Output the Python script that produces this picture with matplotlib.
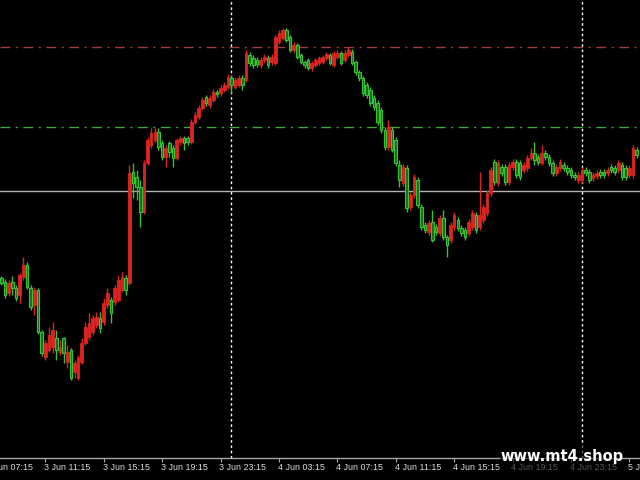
import datetime as dt
import numpy as np
import matplotlib
matplotlib.use("Agg")
import matplotlib.pyplot as plt
from matplotlib.patches import Rectangle

# M15 candles, prices in points above BASE
BASE = 1.1000
POINT = 0.0001
start_time = dt.datetime(2024, 6, 3, 8, 15)

opens = [
    180, 176, 165, 176, 170, 163, 181, 193, 170, 153,
    168, 126, 101, 108, 111, 120, 106, 120, 96, 108,
    86, 80, 96, 115, 121, 126, 133, 140, 136, 153,
    158, 156, 158, 168, 180, 175, 286, 281, 271, 246,
    295, 313, 318, 326, 315, 301, 315, 310, 300, 316,
    320, 320, 316, 336, 341, 350, 361, 353, 358, 366,
    365, 368, 371, 380, 371, 373, 380, 378, 403, 400,
    398, 393, 398, 400, 396, 395, 416, 420, 428, 421,
    408, 413, 403, 396, 398, 390, 393, 395, 396, 400,
    403, 393, 401, 405, 398, 403, 406, 396, 386, 380,
    373, 368, 360, 355, 348, 328, 311, 328, 318, 293,
    275, 290, 251, 263, 278, 251, 233, 226, 236, 231,
    225, 240, 221, 218, 231, 238, 230, 228, 225, 231,
    243, 231, 238, 245, 265, 296, 275, 291, 291, 276,
    291, 296, 295, 288, 290, 300, 305, 301, 295, 305,
    301, 295, 285, 290, 293, 290, 288, 283, 278, 278,
    288, 286, 280, 282, 286, 286, 285, 291, 290, 288,
    293, 290, 283, 283, 308,
]
highs = [
    182, 179, 178, 182, 173, 185, 201, 196, 173, 171,
    170, 128, 118, 131, 136, 128, 118, 121, 113, 110,
    98, 103, 120, 136, 145, 143, 146, 146, 160, 170,
    161, 173, 183, 186, 183, 293, 295, 288, 278, 298,
    321, 330, 330, 330, 318, 313, 317, 313, 320, 322,
    322, 322, 339, 346, 353, 361, 363, 363, 369, 368,
    373, 376, 384, 383, 381, 383, 383, 408, 406, 403,
    401, 401, 404, 403, 404, 423, 428, 430, 430, 423,
    416, 415, 405, 398, 400, 397, 400, 402, 403, 406,
    405, 407, 408, 407, 408, 411, 409, 398, 388, 382,
    376, 371, 363, 358, 351, 331, 338, 331, 321, 298,
    294, 293, 266, 284, 281, 254, 236, 238, 248, 234,
    243, 248, 223, 236, 246, 241, 233, 231, 239, 248,
    246, 286, 254, 268, 291, 299, 298, 294, 294, 296,
    299, 299, 298, 296, 303, 310, 316, 304, 313, 308,
    304, 298, 294, 299, 296, 293, 291, 286, 286, 291,
    291, 289, 286, 288, 289, 289, 291, 294, 293, 298,
    296, 293, 293, 313, 311,
]
lows = [
    173, 160, 162, 163, 157, 155, 178, 169, 148, 143,
    124, 102, 98, 106, 105, 98, 103, 95, 90, 78,
    80, 78, 94, 113, 118, 123, 130, 125, 133, 150,
    135, 153, 156, 166, 163, 173, 260, 258, 231, 244,
    293, 310, 316, 308, 298, 291, 301, 291, 298, 313,
    308, 313, 314, 334, 339, 348, 352, 350, 356, 361,
    362, 366, 369, 365, 369, 371, 368, 376, 392, 390,
    391, 390, 395, 390, 393, 393, 414, 418, 416, 406,
    405, 399, 394, 390, 388, 387, 391, 393, 394, 398,
    393, 391, 399, 393, 396, 401, 393, 383, 377, 362,
    360, 352, 348, 333, 325, 308, 308, 306, 292, 271,
    272, 246, 248, 260, 250, 228, 225, 223, 216, 223,
    222, 218, 201, 215, 228, 227, 222, 218, 222, 228,
    225, 228, 235, 242, 262, 273, 272, 282, 273, 273,
    288, 280, 278, 285, 287, 298, 293, 293, 293, 298,
    292, 282, 282, 287, 287, 283, 280, 278, 275, 275,
    282, 275, 277, 279, 280, 280, 282, 285, 283, 285,
    278, 278, 280, 280, 300,
]
closes = [
    175, 163, 175, 170, 160, 183, 193, 171, 151, 168,
    126, 105, 115, 123, 128, 108, 111, 105, 106, 80,
    95, 101, 115, 131, 135, 140, 141, 130, 155, 165,
    145, 170, 178, 181, 168, 285, 275, 271, 246, 295,
    318, 325, 326, 311, 301, 310, 306, 300, 318, 320,
    315, 316, 336, 343, 350, 358, 355, 360, 366, 364,
    370, 373, 381, 373, 378, 380, 373, 405, 395, 393,
    394, 398, 401, 393, 401, 421, 425, 428, 418, 408,
    413, 401, 396, 393, 390, 395, 398, 400, 401, 404,
    395, 405, 405, 395, 405, 408, 395, 386, 380, 365,
    363, 355, 351, 336, 328, 311, 331, 308, 295, 278,
    291, 250, 263, 281, 253, 231, 228, 235, 218, 226,
    240, 221, 213, 233, 243, 230, 225, 221, 236, 245,
    228, 243, 251, 265, 288, 276, 295, 285, 276, 293,
    296, 283, 281, 293, 300, 305, 298, 296, 305, 301,
    295, 285, 291, 296, 290, 286, 283, 281, 283, 288,
    285, 278, 283, 285, 283, 283, 288, 288, 286, 295,
    281, 281, 290, 310, 303,
]

# horizontal levels and day separators (candle index)
upper_level = 411
lower_level = 331
bid_level = 267
day_starts = [63, 159]

o = BASE + np.array(opens) * POINT
h = BASE + np.array(highs) * POINT
l = BASE + np.array(lows) * POINT
c = BASE + np.array(closes) * POINT
idx = np.arange(len(o))
bull = c > o

RED = "#dc2420"
GREEN = "#36c436"

fig = plt.figure(figsize=(6.4, 4.8), dpi=100, facecolor="black")
ax = fig.add_axes([0, 22 / 480, 1, 458 / 480])
ax.set_facecolor("black")

# wicks
ax.vlines(idx[bull], l[bull], h[bull], color=RED, lw=1, zorder=2)
ax.vlines(idx[~bull], l[~bull], h[~bull], color=GREEN, lw=1, zorder=2)

# bodies
ax.bar(idx[bull], (c - o)[bull], bottom=o[bull], width=0.72,
       color=RED, edgecolor=RED, lw=0.6, zorder=3)
ax.bar(idx[~bull], (o - c)[~bull], bottom=c[~bull], width=0.72,
       color="#1e6a1e", edgecolor=GREEN, lw=0.8, zorder=3)

# level lines
ax.axhline(BASE + upper_level * POINT, color="#a03c3c", lw=1,
           ls=(0, (7, 4, 1.5, 4)), zorder=1)
ax.axhline(BASE + lower_level * POINT, color="#3ca83c", lw=1,
           ls=(0, (7, 4, 1.5, 4)), zorder=1)
ax.axhline(BASE + bid_level * POINT, color="#b4b4b4", lw=1, zorder=1)

for d in day_starts:
    ax.axvline(d, color="white", lw=1, ls=(0, (1.8, 2)), zorder=1)

ax.set_xlim(-0.41, 174.9)
ax.set_ylim(BASE, BASE + 458 * POINT)

for s in ["top", "left", "right"]:
    ax.spines[s].set_visible(False)
ax.spines["bottom"].set_color("#a8a8a8")
ax.spines["bottom"].set_linewidth(1)
ax.set_yticks([])

tick_pos = list(range(12, 175, 16))
ax.set_xticks(tick_pos)
ax.tick_params(axis="x", length=3, color="#a8a8a8", labelbottom=False)

# time labels, left aligned at each tick (first and last run off the edges)
for i in range(-4, 175, 16):
    t = start_time + dt.timedelta(minutes=15 * i)
    label = f"{t.day} {t:%b %H:%M}"
    ax.text(i - 0.3, -0.02, label, transform=ax.get_xaxis_transform(),
            ha="left", va="center", color="#dcdcdc", fontsize=6.4,
            family="Liberation Sans", clip_on=False)

# watermark
fig.patches.append(Rectangle((500 / 640, 4 / 480), 122 / 640, 33 / 480,
                             transform=fig.transFigure, facecolor="black",
                             alpha=0.6, edgecolor="none", zorder=5))
fig.text(562 / 640, 24 / 480, "www.mt4.shop", ha="center", va="center",
         color="white", fontsize=10.5, fontweight="bold", zorder=6)

plt.savefig("out.png", dpi=100, facecolor="black")
